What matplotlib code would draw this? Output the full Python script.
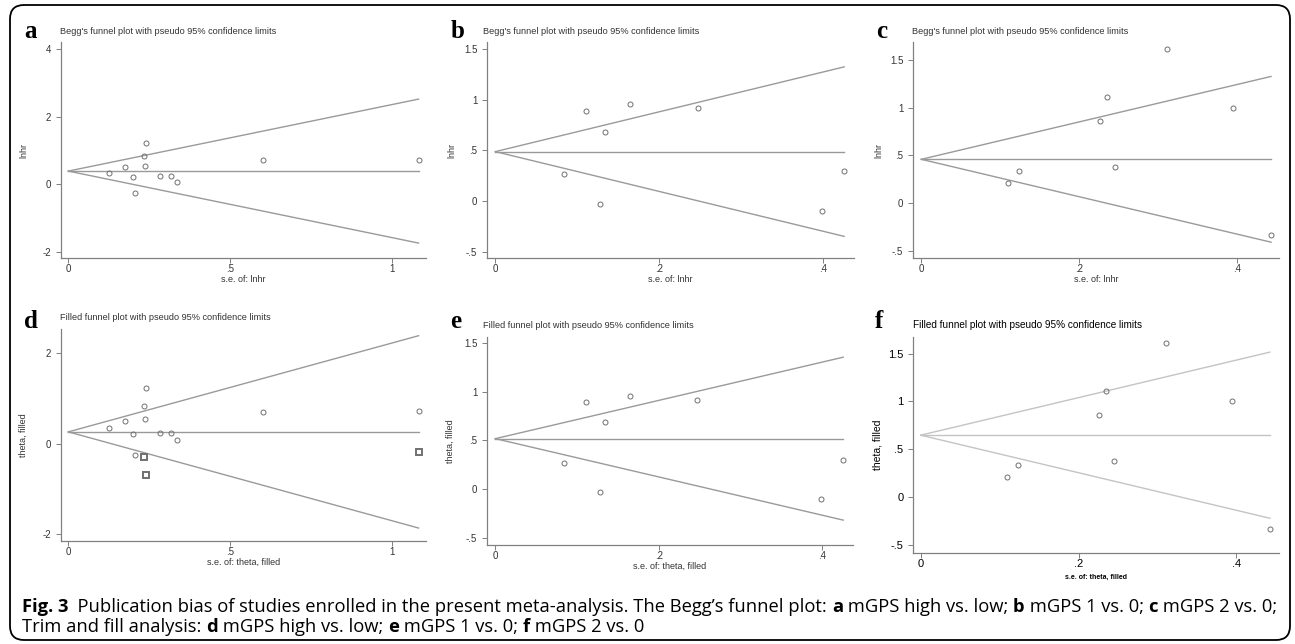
import numpy as np
import matplotlib.pyplot as plt
from matplotlib.patches import FancyBboxPatch
from matplotlib.ticker import FuncFormatter

W, H = 1295, 644

# mGPS high vs. low (panels a, d)
se_hl = [0.126, 0.175, 0.200, 0.205, 0.234, 0.240, 0.238, 0.285, 0.316, 0.337, 0.601, 1.083]
lnhr_hl = [0.344, 0.50, 0.206, -0.246, 0.826, 1.22, 0.55, 0.236, 0.236, 0.079, 0.708, 0.728]
theta_a = 0.393
se_fill_d = [0.234, 0.240, 1.083]
y_fill_d = [-0.288, -0.69, -0.187]
theta_d = 0.259

# mGPS 1 vs. 0 (panels b, e)
se_10 = [0.084, 0.111, 0.128, 0.134, 0.165, 0.247, 0.399, 0.426]
lnhr_10 = [0.268, 0.89, -0.026, 0.684, 0.959, 0.917, -0.101, 0.298]
theta_b = 0.488
theta_e = 0.518

# mGPS 2 vs. 0 (panels c, f)
se_20 = [0.110, 0.123, 0.226, 0.235, 0.245, 0.311, 0.3945, 0.4425]
lnhr_20 = [0.209, 0.334, 0.863, 1.113, 0.379, 1.614, 1.0, -0.334]
theta_c = 0.459
theta_f = 0.648

xt_big = [0, 0.5, 1]
xt_small = [0, 0.2, 0.4]
yt_big = [-2, 0, 2, 4]
yt_small = [-0.5, 0, 0.5, 1, 1.5]

begg = "Begg's funnel plot with pseudo 95% confidence limits"
filled = "Filled funnel plot with pseudo 95% confidence limits"

plt.rcParams['font.family'] = ['Liberation Sans', 'DejaVu Sans']
fig = plt.figure(figsize=(W / 100, H / 100), dpi=100)

bg = fig.add_axes([0, 0, 1, 1])
bg.set_xlim(0, W)
bg.set_ylim(H, 0)
bg.axis('off')
bg.set_zorder(-1)
bg.add_patch(FancyBboxPatch((10, 5), 1280, 635, boxstyle='round,pad=0,rounding_size=14',
                            fc='none', ec='black', lw=1.3))


def fmt(v, _):
    s = '%g' % v
    if s.startswith('0.'):
        s = s[1:]
    elif s.startswith('-0.'):
        s = '-' + s[2:]
    return s


def panel(box, xlim, ylim, xt, yt, se, y, theta, letter, lpos, title, tpos,
          xlab, ylab, ylx, xly, lcol='#9a9a9a', tcol='#333333', tsize=7, lsize=6.5,
          titsize=6.6, fse=None, fy=None):
    l, t, r, b = box
    ax = fig.add_axes([l / W, 1 - b / H, (r - l) / W, (b - t) / H])
    allse = list(se) + (list(fse) if fse else [])
    smax = max(allse)
    ax.plot([0, smax], [theta, theta], color=lcol, lw=1)
    ax.plot([0, smax], [theta, theta + 1.96 * smax], color=lcol, lw=1)
    ax.plot([0, smax], [theta, theta - 1.96 * smax], color=lcol, lw=1)
    ax.plot(se, y, 'o', mfc='none', mec='#707070', ms=3.6, mew=0.7)
    if fse:
        ax.plot(fse, fy, 's', mfc='none', mec='#707070', ms=4.0, mew=1.4)
    ax.set_xlim(*xlim)
    ax.set_ylim(*ylim)
    ax.set_xticks(xt)
    ax.set_yticks(yt)
    ax.xaxis.set_major_formatter(FuncFormatter(fmt))
    ax.yaxis.set_major_formatter(FuncFormatter(fmt))
    for s in ['top', 'right']:
        ax.spines[s].set_visible(False)
    for s in ['left', 'bottom']:
        ax.spines[s].set_color('#808080')
        ax.spines[s].set_linewidth(0.9)
    ax.tick_params(direction='out', length=3.5, width=0.7, color='#808080',
                   labelsize=tsize, labelcolor=tcol)
    ax.tick_params(axis='x', pad=1)
    ax.tick_params(axis='y', pad=3.5)
    ax.set_xlabel(xlab, fontsize=lsize, color=tcol)
    ax.set_ylabel(ylab, fontsize=lsize, color=tcol)
    ax.yaxis.set_label_coords((ylx - l) / (r - l), 0.5)
    ax.xaxis.set_label_coords(0.5, -(xly - b) / (b - t))
    ax.xaxis.label.set_va('center')
    fig.text(lpos[0] / W, 1 - lpos[1] / H, letter, family='Liberation Serif',
             weight='bold', fontsize=18, va='baseline')
    fig.text(tpos[0] / W, 1 - tpos[1] / H, title, fontsize=titsize, color=tcol,
             va='center')
    return ax


panel((61, 42, 426, 258), (-0.0226, 1.106), (-2.17, 4.2), xt_big, yt_big,
      se_hl, lnhr_hl, theta_a, 'a', (24, 38), begg, (60, 32),
      's.e. of: lnhr', 'lnhr', 28, 279)
panel((487, 42, 854, 258), (-0.0102, 0.438), (-0.56, 1.568), xt_small, yt_small,
      se_10, lnhr_10, theta_b, 'b', (451, 38), begg, (483, 32),
      's.e. of: lnhr', 'lnhr', 456, 279)
panel((913, 42, 1279, 258), (-0.0105, 0.4526), (-0.574, 1.687), xt_small, yt_small,
      se_20, lnhr_20, theta_c, 'c', (876, 38), begg, (912, 32),
      's.e. of: lnhr', 'lnhr', 883, 279)
panel((61, 329, 426, 541), (-0.0226, 1.106), (-2.15, 2.53), xt_big, [-2, 0, 2],
      se_hl, lnhr_hl, theta_d, 'd', (24, 328), filled, (60, 318),
      's.e. of: theta, filled', 'theta, filled', 28, 562, fse=se_fill_d, fy=y_fill_d)
panel((487, 337, 853, 545), (-0.0102, 0.438), (-0.572, 1.56), xt_small, yt_small,
      se_10, lnhr_10, theta_e, 'e', (450, 328), filled, (483, 325),
      's.e. of: theta, filled', 'theta, filled', 455, 566)
panel((913, 337, 1279, 553), (-0.0097, 0.454), (-0.582, 1.673), xt_small, yt_small,
      se_20, lnhr_20, theta_f, 'f', (875, 328), filled, (913, 325),
      '', 'theta, filled', 882, 576, lcol='#c4c4c4', tcol='black', tsize=8,
      lsize=7.5, titsize=7.2)
fig.text(1096 / W, 1 - 577 / H, 's.e. of: theta, filled', fontsize=5, weight='bold',
         ha='center', va='center')

# caption, bold and regular pieces chained one after another
cap_size = 10.5
cap_font = dict(family=['Open Sans', 'DejaVu Sans'], fontsize=cap_size)
line1 = [("Fig. 3", 'bold'), ("  Publication bias of studies enrolled in the present meta-analysis. "
          "The Begg\u2019s funnel plot: ", 'normal'), ("a", 'bold'), (" mGPS high vs. low; ", 'normal'),
         ("b", 'bold'), (" mGPS 1 vs. 0; ", 'normal'), ("c", 'bold'), (" mGPS 2 vs. 0;", 'normal')]
line2 = [("Trim and fill analysis: ", 'normal'), ("d", 'bold'), (" mGPS high vs. low; ", 'normal'),
         ("e", 'bold'), (" mGPS 1 vs. 0; ", 'normal'), ("f", 'bold'), (" mGPS 2 vs. 0", 'normal')]
cap_texts = []
last1 = None
for pieces, ybase in [(line1, 616), (line2, 636)]:
    prev = None
    for txt, w in pieces:
        if prev is None:
            prev = bg.text(22, ybase, txt, weight=w, va='bottom', ha='left', **cap_font)
        else:
            prev = bg.annotate(txt, xy=(1, 0), xycoords=prev, va='bottom', ha='left',
                               weight=w, **cap_font)
        cap_texts.append(prev)
    if last1 is None:
        last1 = prev

# stretch the caption so that line 1 runs to the right edge like the original
fig.canvas.draw()
x0 = 22
x1 = last1.get_window_extent().x1
k = (1284 - x0) / (x1 - x0)
for t in cap_texts:
    t.set_fontsize(cap_size * k)

fig.savefig('out.png', dpi=100)
